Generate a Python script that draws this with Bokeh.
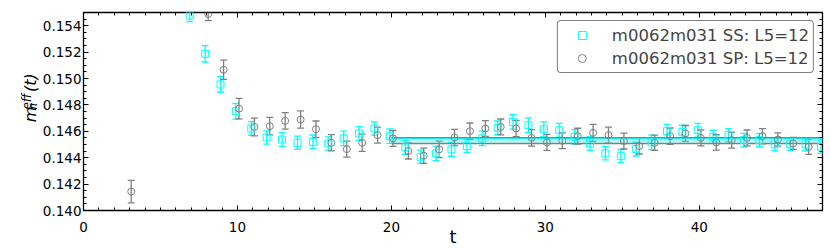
import math
from bokeh.plotting import figure
from bokeh.layouts import row
from bokeh.models import (ColumnDataSource, Range1d, LinearAxis, SingleIntervalTicker,
                          PrintfTickFormatter, CustomJSTickFormatter, Whisker, TeeHead,
                          Legend, LegendItem, Label)
from bokeh.transform import dodge
from bokeh.embed import file_html
from bokeh.resources import INLINE

# ---- data ----
t_ss = list(range(7, 49))
m_ss = [0.15476, 0.15187, 0.14955, 0.14752, 0.14621, 0.14553, 0.14538, 0.14513, 0.14520,
        0.14508, 0.14546, 0.14584, 0.14621, 0.14563, 0.14478, 0.14407, 0.14433, 0.14463,
        0.14488, 0.14546, 0.14626, 0.14671, 0.14646, 0.14616, 0.14608, 0.14558, 0.14508,
        0.14433, 0.14412, 0.14465, 0.14516, 0.14601, 0.14596, 0.14608, 0.14558, 0.14571,
        0.14533, 0.14533, 0.14501, 0.14501, 0.14501, 0.14483]
e_ss = [0.00045, 0.00062, 0.00059, 0.00060, 0.00052, 0.00050, 0.00052, 0.00050, 0.00052,
        0.00050, 0.00055, 0.00052, 0.00050, 0.00055, 0.00052, 0.00050, 0.00055, 0.00052,
        0.00050, 0.00055, 0.00052, 0.00055, 0.00055, 0.00055, 0.00052, 0.00055, 0.00052,
        0.00050, 0.00050, 0.00052, 0.00055, 0.00052, 0.00050, 0.00052, 0.00050, 0.00050,
        0.00052, 0.00050, 0.00048, 0.00046, 0.00050, 0.00050]

t_sp = [3] + list(range(8, 48))
m_sp = [0.14143, 0.15488, 0.15066, 0.14772, 0.14633, 0.14639, 0.14679, 0.14689, 0.14616,
        0.14513, 0.14465, 0.14513, 0.14571, 0.14546, 0.14450, 0.14415, 0.14463, 0.14553,
        0.14601, 0.14621, 0.14633, 0.14621, 0.14550, 0.14516, 0.14528, 0.14563, 0.14588,
        0.14571, 0.14526, 0.14488, 0.14513, 0.14563, 0.14584, 0.14550, 0.14516, 0.14533,
        0.14550, 0.14563, 0.14538, 0.14508, 0.14483]
e_sp = [0.00085, 0.00050, 0.00073, 0.00078, 0.00067, 0.00066, 0.00063, 0.00065, 0.00062,
        0.00062, 0.00060, 0.00065, 0.00060, 0.00060, 0.00060, 0.00058, 0.00062, 0.00062,
        0.00062, 0.00060, 0.00060, 0.00062, 0.00062, 0.00060, 0.00060, 0.00060, 0.00065,
        0.00060, 0.00060, 0.00060, 0.00058, 0.00062, 0.00060, 0.00060, 0.00058, 0.00060,
        0.00060, 0.00058, 0.00050, 0.00045, 0.00058]

fit_t = [20, 48]
fit_ss_lo = [0.14514, 0.14514]
fit_ss_hi = [0.14545, 0.14545]
fit_sp_lo = [0.14508, 0.14508]
fit_sp_hi = [0.14550, 0.14550]

label_ss = "m0062m031 SS: L5=12"
label_sp = "m0062m031 SP: L5=12"

SS_COLOR = "#00ffff"
SP_COLOR = "#808080"
FONT = "DejaVu Sans"
H = 249
LAB_W = 39          # strip holding the y-axis title
MAIN_W = 830 - LAB_W

src_ss = ColumnDataSource(dict(t=t_ss, m=m_ss,
                               lo=[a - b for a, b in zip(m_ss, e_ss)],
                               hi=[a + b for a, b in zip(m_ss, e_ss)]))
src_sp = ColumnDataSource(dict(t=t_sp, m=m_sp,
                               lo=[a - b for a, b in zip(m_sp, e_sp)],
                               hi=[a + b for a, b in zip(m_sp, e_sp)]))

p = figure(width=MAIN_W, height=H, x_range=Range1d(0, 48), y_range=Range1d(0.140, 0.155),
           output_backend="svg", toolbar_location=None,
           min_border_left=83 - LAB_W, min_border_right=8, min_border_top=12,
           min_border_bottom=38)
p.xgrid.visible = False
p.ygrid.visible = False
p.outline_line_color = "black"
p.outline_line_width = 1.3
p.background_fill_color = "white"
p.border_fill_color = "white"

xt = SingleIntervalTicker(interval=10, num_minor_ticks=10)
yt = SingleIntervalTicker(interval=0.002, num_minor_ticks=4)

def style_axis(ax):
    ax.axis_line_color = None
    ax.major_tick_in = 5
    ax.major_tick_out = 0
    ax.minor_tick_in = 3
    ax.minor_tick_out = 0
    ax.major_tick_line_color = "black"
    ax.minor_tick_line_color = "black"
    ax.major_label_text_font = FONT
    ax.major_label_text_font_size = "13.5px"
    ax.major_label_text_color = "black"
    ax.major_label_standoff = 3

p.xaxis.ticker = xt
p.yaxis.ticker = yt
p.yaxis.formatter = PrintfTickFormatter(format="%.3f")
style_axis(p.xaxis[0])
style_axis(p.yaxis[0])
p.yaxis.major_label_standoff = 2
p.xaxis.major_label_standoff = 11
p.xaxis.major_label_text_line_height = 1.0
p.xaxis.axis_label = "t"
p.xaxis.axis_label_standoff = -9
p.xaxis.axis_label_text_font = FONT
p.xaxis.axis_label_text_font_size = "18px"
p.xaxis.axis_label_text_font_style = "normal"
p.xaxis.axis_label_text_color = "black"
p.xaxis.axis_label_text_line_height = 1.0

for loc, tk in (("above", xt), ("right", yt)):
    ax = LinearAxis(ticker=tk, formatter=CustomJSTickFormatter(code="return ''"))
    style_axis(ax)
    ax.major_label_text_font_size = "1px"
    ax.major_label_standoff = 0
    p.add_layout(ax, loc)

# fit bands
p.varea(x=fit_t, y1=fit_ss_lo, y2=fit_ss_hi, fill_color=SS_COLOR, fill_alpha=0.35)
p.line(x=fit_t, y=fit_sp_lo, line_color=SP_COLOR, line_width=1.6)
p.line(x=fit_t, y=fit_sp_hi, line_color=SP_COLOR, line_width=1.6)
p.line(x=fit_t, y=fit_ss_hi, line_color=SS_COLOR, line_width=1.0, line_alpha=0.8)

# SS series
w_ss = Whisker(base=dodge("t", -0.1), lower="lo", upper="hi", source=src_ss,
               line_color=SS_COLOR, line_width=1.3,
               upper_head=TeeHead(size=7, line_color=SS_COLOR, line_width=1.3),
               lower_head=TeeHead(size=7, line_color=SS_COLOR, line_width=1.3))
p.add_layout(w_ss)
ss_sq = p.scatter(x=dodge("t", -0.1), y="m", source=src_ss, marker="square", size=7,
                  fill_color=None, line_color=SS_COLOR, line_width=1.0)

# SP series
w_sp = Whisker(base=dodge("t", 0.1), lower="lo", upper="hi", source=src_sp,
               line_color=SP_COLOR, line_width=1.3,
               upper_head=TeeHead(size=7, line_color=SP_COLOR, line_width=1.3),
               lower_head=TeeHead(size=7, line_color=SP_COLOR, line_width=1.3))
p.add_layout(w_sp)
sp_ci = p.scatter(x=dodge("t", 0.1), y="m", source=src_sp, marker="circle", size=7,
                  fill_color=None, line_color=SP_COLOR, line_width=1.0)

legend = Legend(items=[LegendItem(label=label_ss, renderers=[ss_sq]),
                       LegendItem(label=label_sp, renderers=[sp_ci])],
                location="top_right", margin=8, padding=4, spacing=3,
                glyph_width=40, glyph_height=20, label_height=20, label_standoff=10,
                label_text_font=FONT, label_text_font_size="16.5px",
                border_line_color="black", border_line_width=1.2,
                background_fill_color="white", background_fill_alpha=1.0)
if "border_radius" in Legend.properties():
    legend.border_radius = 4
p.add_layout(legend)

# ---- strip on the left carrying the y-axis title m_pi^{eff}(t) ----
pl = figure(width=LAB_W, height=H, x_range=Range1d(0, LAB_W), y_range=Range1d(0, H),
            output_backend="svg", toolbar_location=None, x_axis_type=None, y_axis_type=None,
            min_border_left=0, min_border_right=0, min_border_top=0, min_border_bottom=0)
pl.xgrid.visible = False
pl.ygrid.visible = False
pl.outline_line_color = None
pl.background_fill_color = "white"
pl.border_fill_color = "white"

# (text, baseline x, start y measured up from the bottom, size)
ylab = [("m", 30.2, 111, "16px"), ("\u03c0", 33.0, 127, "11px"),
        ("eff", 26.0, 127, "12px"), ("(t)", 30.2, 149, "16px")]
for txt, xx, yy, fs in ylab:
    pl.add_layout(Label(x=xx, y=yy, text=txt, angle=math.pi / 2,
                        text_align="left", text_baseline="alphabetic",
                        text_font=FONT, text_font_style="italic", text_font_size=fs,
                        text_color="black"))

layout = row(pl, p, spacing=0)
open("out.html", "w").write(file_html(layout, INLINE))
